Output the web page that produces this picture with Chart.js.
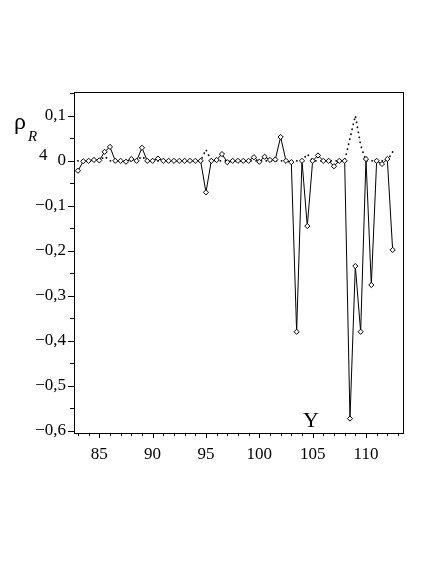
<!DOCTYPE html>
<html>
<head>
<meta charset="utf-8">
<script src="https://cdn.jsdelivr.net/npm/chart.js@4.4.0/dist/chart.umd.min.js"></script>
<style>
  html, body { margin: 0; padding: 0; background: #fff; }
  #wrap { width: 436px; height: 564px; }
</style>
</head>
<body>
<div id="wrap"><canvas id="myChart" width="436" height="564"></canvas></div>
<script>
// x positions (Y axis variable)
const yearX = [83, 83.5, 84, 84.5, 85, 85.5, 86, 86.5, 87, 87.5,
               88, 88.5, 89, 89.5, 90, 90.5, 91, 91.5, 92, 92.5,
               93, 93.5, 94, 94.5, 95, 95.5, 96, 96.5, 97, 97.5,
               98, 98.5, 99, 99.5, 100, 100.5, 101, 101.5, 102, 102.5,
               103, 103.5, 104, 104.5, 105, 105.5, 106, 106.5, 107, 107.5,
               108, 108.5, 109, 109.5, 110, 110.5, 111, 111.5, 112, 112.5];

// solid line with diamonds
const rhoSolid = [-0.022, -0.001, 0, 0.002, 0.001, 0.020, 0.031, 0, 0, -0.002,
                  0.004, 0, 0.029, 0, 0, 0.005, 0, 0, 0, 0,
                  0, 0, 0, 0, -0.070, 0, 0.002, 0.015, -0.003, 0,
                  0, 0, 0, 0.008, -0.002, 0.009, 0.002, 0.003, 0.053, 0,
                  -0.003, -0.380, 0, -0.145, 0, 0.012, 0, 0, -0.012, 0,
                  0, -0.573, -0.234, -0.380, 0.004, -0.276, 0, -0.007, 0.004, -0.198];

// dotted line
const rhoDotted = [0, 0, 0, 0, 0, 0.010, 0, 0, 0, 0,
                   0, 0, 0.010, 0, 0, 0, 0, 0, 0, 0,
                   0, 0, 0, 0, 0.025, 0, 0, 0, 0, 0,
                   0, 0, 0, 0, 0, 0, 0, 0, 0, 0,
                   0, 0, 0, 0.015, 0, 0, 0, 0, 0, 0,
                   0, 0.050, 0.100, 0.035, 0, 0, 0, 0, 0, 0.020];

const xMajor = [85, 90, 95, 100, 105, 110];
const xMinor = [83, 84, 85, 86, 87, 88, 89, 90, 91, 92, 93, 94, 95, 96, 97, 98,
                99, 100, 101, 102, 103, 104, 105, 106, 107, 108, 109, 110, 111, 112, 113];
const yMajor = [0.1, 0, -0.1, -0.2, -0.3, -0.4, -0.5, -0.6];
const yMajorLabels = ['0,1', '0', '\u22120,1', '\u22120,2', '\u22120,3', '\u22120,4', '\u22120,5', '\u22120,6'];
const yMinor = [0.15, 0.05, -0.05, -0.15, -0.25, -0.35, -0.45, -0.55];

const serif = '"Liberation Serif", "Times New Roman", serif';

function toPoints(xs, ys) {
    return xs.map((x, i) => ({ x: x, y: ys[i] }));
}

// box + minor ticks + axis titles
const framePlugin = {
    id: 'frame',
    afterDraw(chart) {
        const ctx = chart.ctx;
        const a = chart.chartArea;
        const xs = chart.scales.x, ys = chart.scales.y;
        ctx.save();
        ctx.strokeStyle = '#000';
        ctx.lineWidth = 1;
        ctx.strokeRect(Math.round(a.left) + 0.5, Math.round(a.top) + 0.5,
                       Math.round(a.right - a.left), Math.round(a.bottom - a.top));
        ctx.beginPath();
        xMinor.forEach(v => {
            const px = Math.round(xs.getPixelForValue(v)) + 0.5;
            const len = xMajor.includes(v) ? 5 : 3;
            ctx.moveTo(px, a.bottom);
            ctx.lineTo(px, a.bottom + len);
        });
        yMajor.forEach(v => {
            const py = Math.round(ys.getPixelForValue(v)) + 0.5;
            ctx.moveTo(a.left, py);
            ctx.lineTo(a.left - 6, py);
        });
        yMinor.forEach(v => {
            const py = Math.round(ys.getPixelForValue(v)) + 0.5;
            ctx.moveTo(a.left, py);
            ctx.lineTo(a.left - 4, py);
        });
        ctx.stroke();

        ctx.fillStyle = '#000';
        ctx.textBaseline = 'alphabetic';
        ctx.textAlign = 'left';
        ctx.font = '24px ' + serif;
        ctx.fillText('\u03c1', 14, 129);
        ctx.font = 'italic 15px ' + serif;
        ctx.fillText('R', 28, 141);
        ctx.font = '17px ' + serif;
        ctx.fillText('4', 39, 160);
        ctx.font = '22px ' + serif;
        ctx.textAlign = 'center';
        ctx.fillText('Y', 311, 427);
        ctx.restore();
    }
};

function draw() {
    new Chart('myChart', {
        type: 'line',
        data: {
            datasets: [
                {
                    label: 'solid',
                    data: toPoints(yearX, rhoSolid),
                    borderColor: '#000',
                    borderWidth: 1,
                    pointStyle: 'rectRot',
                    pointRadius: 2.6,
                    pointBackgroundColor: '#fff',
                    pointBorderColor: '#000',
                    pointBorderWidth: 1,
                    fill: false,
                    tension: 0
                },
                {
                    label: 'dotted',
                    data: toPoints(yearX, rhoDotted),
                    borderColor: '#000',
                    borderWidth: 1.8,
                    borderDash: [0.1, 5],
                    borderCapStyle: 'round',
                    pointRadius: 0,
                    fill: false,
                    tension: 0
                }
            ]
        },
        options: {
            responsive: false,
            animation: false,
            layout: { padding: { top: 92, right: 33, left: 0, bottom: 0 } },
            plugins: {
                legend: { display: false },
                tooltip: { enabled: false }
            },
            scales: {
                x: {
                    type: 'linear',
                    min: 82.63,
                    max: 113.47,
                    afterBuildTicks: s => { s.ticks = xMajor.map(v => ({ value: v })); },
                    afterFit: s => { s.height = 131; },
                    grid: { display: false },
                    border: { display: false },
                    ticks: {
                        autoSkip: false,
                        maxRotation: 0,
                        padding: 3,
                        color: '#000',
                        font: { family: serif, size: 17 },
                        callback: v => String(v)
                    }
                },
                y: {
                    type: 'linear',
                    min: -0.605,
                    max: 0.153,
                    afterBuildTicks: s => { s.ticks = yMajor.map(v => ({ value: v })); },
                    afterFit: s => { s.width = 74; },
                    grid: { display: false },
                    border: { display: false },
                    ticks: {
                        autoSkip: false,
                        padding: 0,
                        color: '#000',
                        font: { family: serif, size: 17 },
                        callback: v => {
                            const i = yMajor.findIndex(m => Math.abs(m - v) < 1e-9);
                            return i >= 0 ? yMajorLabels[i] : '';
                        }
                    }
                }
            }
        },
        plugins: [framePlugin]
    });
}

if (document.fonts && document.fonts.load) {
    Promise.all([
        document.fonts.load('17px "Liberation Serif"'),
        document.fonts.load('italic 15px "Liberation Serif"')
    ]).then(draw, draw);
} else {
    draw();
}
</script>
</body>
</html>
